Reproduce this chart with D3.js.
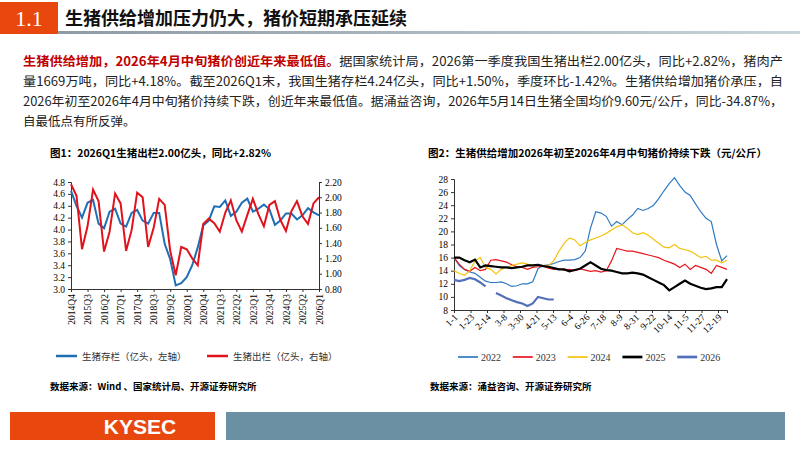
<!DOCTYPE html>
<html><head><meta charset="utf-8">
<script src="https://cdn.jsdelivr.net/npm/d3@7"></script>
<style>
body{margin:0;background:#fff}
text{font-family:"Liberation Serif","Noto Sans CJK SC",serif}
.cn{font-family:"Noto Sans CJK SC",sans-serif}
</style></head><body>
<script>
const width = 800
const height = 450

// chart 1 data
const quarters = ['2014Q4','2015Q1','2015Q2','2015Q3','2015Q4','2016Q1','2016Q2','2016Q3','2016Q4','2017Q1','2017Q2','2017Q3','2017Q4','2018Q1','2018Q2','2018Q3','2018Q4','2019Q1','2019Q2','2019Q3','2019Q4','2020Q1','2020Q2','2020Q3','2020Q4','2021Q1','2021Q2','2021Q3','2021Q4','2022Q1','2022Q2','2022Q3','2022Q4','2023Q1','2023Q2','2023Q3','2023Q4','2024Q1','2024Q2','2024Q3','2024Q4','2025Q1','2025Q2','2025Q3','2025Q4','2026Q1']
const inventory = [4.65,4.4,4.2,4.45,4.5,4.1,4.02,4.3,4.35,4.1,4.05,4.28,4.33,4.15,4.1,4.28,4.28,3.76,3.5,3.06,3.1,3.2,3.4,3.7,4.07,4.15,4.39,4.38,4.49,4.23,4.3,4.45,4.52,4.3,4.35,4.42,4.34,4.08,4.15,4.27,4.27,4.17,4.24,4.36,4.29,4.24]
const slaughter = [2.17,2.02,1.32,1.62,2.1,1.95,1.29,1.55,2.05,1.92,1.3,1.57,2.06,2.0,1.35,1.6,1.98,1.9,1.3,0.98,1.35,1.32,1.2,1.11,1.65,1.72,1.66,1.55,1.8,1.96,1.7,1.55,1.77,1.98,1.78,1.62,1.9,1.95,1.7,1.56,1.82,1.95,1.75,1.65,1.92,2.0]
const leftTicks = [3.0,3.2,3.4,3.6,3.8,4.0,4.2,4.4,4.6,4.8]
const rightTicks = [0.8,1.0,1.2,1.4,1.6,1.8,2.0,2.2]

// chart 2 data (weekly readings, day of year)
const days = d3.range(0, 365, 7)
const price2022 = [16,14.8,14.2,13.8,13.6,13.0,12.4,12.2,12.2,12.3,12.0,11.6,11.7,12.0,12.0,12.3,14.3,14.8,14.9,15.1,15.4,15.6,15.6,15.7,16.0,17.0,20.5,23.0,22.8,22.3,20.8,21.5,21.0,21.8,22.5,23.5,23.2,23.5,24.0,25.0,26.2,27.3,28.2,27.0,26.0,25.5,24.2,23.0,22.0,21.5,18.0,15.5,16.3]
const price2023 = [16,15,14.2,13.9,14.5,14.0,14.2,15.6,15.7,15.5,15.3,14.9,14.6,14.5,14.2,14.5,14.6,14.7,14.4,14.2,14.3,14.1,14.2,14.0,14.3,14.1,13.9,14.0,13.8,14.0,15.5,17.4,17.2,17.0,17.0,16.8,16.6,16.4,16.2,16.0,15.6,15.3,15.0,14.5,15.0,14.2,14.8,14.5,14.2,13.6,14.8,14.5,14.2]
const price2024 = [14,13.6,13.3,14.0,15.5,16.0,14.5,14.2,13.5,14.2,14.5,14.8,15.0,15.2,15.0,14.8,14.8,14.7,14.8,15.5,17.0,18.2,19.0,18.7,17.8,18.3,18.7,19.0,19.3,19.7,20.2,20.7,21.0,20.5,19.8,19.5,19.8,19.4,18.8,18.2,17.6,17.5,18.0,17.4,17.2,17.0,16.5,16.0,16.2,15.6,15.6,15.2,15.6]
const price2025 = [16,16.0,15.6,15.3,15.7,14.5,14.8,14.7,14.6,14.5,14.5,14.4,14.5,14.6,14.8,14.8,14.9,14.7,14.6,14.4,14.2,14.2,13.9,14.1,14.3,14.8,15.3,14.8,14.3,14.1,14.0,13.8,13.6,13.6,13.7,13.6,13.4,13.0,12.6,12.2,11.8,11.0,11.5,12.0,12.5,12.0,11.7,11.4,11.2,11.3,11.5,11.5,12.7]
const price2026 = [12.6,12.4,12.6,12.9,12.7,12.2,11.6,null,10.6,10.2,9.8,9.5,9.2,9.0,8.6,9.0,10.0,9.8,9.6,9.6]
const dayLabels = ['1-1','1-23','2-14','3-8','3-30','4-21','5-13','6-4','6-26','7-18','8-9','8-31','9-22','10-14','11-5','11-27','12-19']
const priceTicks = [8,10,12,14,16,18,20,22,24,26,28]

const svg = d3.select('body').append('svg').attr('width', width).attr('height', height)

// header
const hg = svg.append('defs').append('linearGradient').attr('id', 'hl')
hg.append('stop').attr('offset', '0').attr('stop-color', '#8a96a0')
hg.append('stop').attr('offset', '1').attr('stop-color', '#c9d3da')
svg.append('rect').attr('x', 0).attr('y', 31).attr('width', 800).attr('height', 3).attr('fill', 'url(#hl)')
svg.append('rect').attr('x', 0).attr('y', 2).attr('width', 58).attr('height', 32).attr('fill', '#e8470e')
svg.append('text').attr('x', 29).attr('y', 26).attr('text-anchor', 'middle').attr('fill', '#fff')
	.attr('font-size', 22).text('1.1')
svg.append('text').attr('class', 'cn').attr('x', 65).attr('y', 25).attr('font-size', 18).attr('font-weight', 'bold')
	.attr('fill', '#111').text('生猪供给增加压力仍大，猪价短期承压延续')

// paragraph
const para = [
	['生猪供给增加，2026年4月中旬猪价创近年来最低值。', '据国家统计局，2026第一季度我国生猪出栏2.00亿头，同比+2.82%，猪肉产'],
	['', '量1669万吨，同比+4.18%。截至2026Q1末，我国生猪存栏4.24亿头，同比+1.50%，季度环比-1.42%。生猪供给增加猪价承压，自'],
	['', '2026年初至2026年4月中旬猪价持续下跌，创近年来最低值。据涌益咨询，2026年5月14日生猪全国均价9.60元/公斤，同比-34.87%，'],
	['', '自最低点有所反弹。']
]
para.forEach((p, i) => {
	const t = svg.append('text').attr('class', 'cn').attr('x', 23).attr('y', 66 + i * 20).attr('font-size', 12.5).attr('fill', '#222')
	if (i < 3) t.attr('textLength', 760).attr('lengthAdjust', 'spacingAndGlyphs')
	if (p[0]) t.append('tspan').attr('fill', '#c00000').attr('font-weight', 'bold').text(p[0])
	t.append('tspan').text(p[1])
})

// chart 1
svg.append('text').attr('class', 'cn').attr('x', 50).attr('y', 157).attr('font-size', 10.5).attr('font-weight', 'bold')
	.text('图1：2026Q1生猪出栏2.00亿头，同比+2.82%')
const c1 = { l: 71, r: 319, t: 182, b: 289 }
const x1 = d3.scalePoint().domain(quarters).range([c1.l, c1.r])
const yL = d3.scaleLinear().domain([3.0, 4.8]).range([c1.b, c1.t])
const yR = d3.scaleLinear().domain([0.8, 2.2]).range([c1.b, c1.t])

svg.append('g').attr('transform', `translate(${c1.l},0)`)
	.call(d3.axisLeft(yL).tickValues(leftTicks).tickFormat(d3.format('.1f')).tickSize(3))
	.call(g => g.selectAll('text').attr('font-size', 9.5))
svg.append('g').attr('transform', `translate(${c1.r},0)`)
	.call(d3.axisRight(yR).tickValues(rightTicks).tickFormat(d3.format('.2f')).tickSize(3))
	.call(g => g.selectAll('text').attr('font-size', 9.5))
svg.append('g').attr('transform', `translate(0,${c1.b})`)
	.call(d3.axisBottom(x1).tickValues(quarters.filter((q, i) => i % 3 === 0)).tickSize(3))
	.call(g => g.selectAll('text').attr('font-size', 9.5)
		.attr('transform', 'rotate(-90)').attr('text-anchor', 'end').attr('x', -5).attr('y', 0).attr('dy', '0.35em'))
svg.selectAll('.domain, .tick line').attr('stroke', '#333')

svg.append('path').attr('fill', 'none').attr('stroke', '#1f6fb4').attr('stroke-width', 2)
	.attr('d', d3.line().x((d, i) => x1(quarters[i])).y(d => yL(d))(inventory))
svg.append('path').attr('fill', 'none').attr('stroke', '#e0121c').attr('stroke-width', 2)
	.attr('d', d3.line().x((d, i) => x1(quarters[i])).y(d => yR(d))(slaughter))

const leg1 = [['生猪存栏（亿头，左轴）', '#1f6fb4', 56], ['生猪出栏（亿头，右轴）', '#e0121c', 207]]
leg1.forEach(([name, c, x]) => {
	svg.append('line').attr('x1', x).attr('x2', x + 21).attr('y1', 356).attr('y2', 356).attr('stroke', c).attr('stroke-width', 2.5)
	svg.append('text').attr('class', 'cn').attr('x', x + 26).attr('y', 360).attr('font-size', 9.5).attr('fill', '#333').text(name)
})
svg.append('text').attr('class', 'cn').attr('x', 50).attr('y', 390).attr('font-size', 9.5).attr('font-weight', 'bold')
	.text('数据来源：Wind 、国家统计局、开源证券研究所')

// chart 2
svg.append('text').attr('class', 'cn').attr('x', 428).attr('y', 157).attr('font-size', 10.5).attr('font-weight', 'bold')
	.text('图2：生猪供给增加2026年初至2026年4月中旬猪价持续下跌（元/公斤）')
const c2 = { l: 454, r: 727, t: 179, b: 310 }
const x2 = d3.scaleLinear().domain([0, 364]).range([c2.l, c2.r])
const y2 = d3.scaleLinear().domain([8, 28]).range([c2.b, c2.t])

svg.append('g').attr('transform', `translate(${c2.l},0)`)
	.call(d3.axisLeft(y2).tickValues(priceTicks).tickSize(3))
	.call(g => g.selectAll('text').attr('font-size', 9.5))
svg.append('g').attr('transform', `translate(0,${c2.b})`)
	.call(d3.axisBottom(x2).tickValues(dayLabels.map((d, i) => i * 22)).tickFormat((d, i) => dayLabels[i]).tickSize(3))
	.call(g => g.selectAll('text').attr('font-size', 9.5)
		.attr('transform', 'rotate(-45)').attr('text-anchor', 'end').attr('x', -3).attr('y', 5).attr('dy', '0.35em'))
svg.selectAll('.domain, .tick line').attr('stroke', '#333')

const series = [
	['2022', price2022, '#2e7ac4', 1.2],
	['2023', price2023, '#e8141c', 1.2],
	['2024', price2024, '#f4c20d', 1.2],
	['2025', price2025, '#000', 2.2],
	['2026', price2026, '#5470b8', 2.2]
]
const line2 = d3.line().defined(d => d != null).x((d, i) => x2(days[i])).y(d => y2(d))
series.forEach(([name, vals, c, w]) => {
	svg.append('path').attr('fill', 'none').attr('stroke', c).attr('stroke-width', w).attr('d', line2(vals))
})
series.forEach(([name, vals, c, w], i) => {
	const x = 458 + i * 54.8
	svg.append('line').attr('x1', x).attr('x2', x + 20).attr('y1', 357).attr('y2', 357).attr('stroke', c).attr('stroke-width', w + 0.5)
	svg.append('text').attr('x', x + 23).attr('y', 361).attr('font-size', 10).attr('fill', '#333').text(name)
})
svg.append('text').attr('class', 'cn').attr('x', 430).attr('y', 390).attr('font-size', 9.5).attr('font-weight', 'bold')
	.text('数据来源：涌益咨询、开源证券研究所')

// footer
svg.append('rect').attr('x', 10).attr('y', 412).attr('width', 205).attr('height', 28).attr('fill', '#e8470e')
svg.append('text').attr('x', 140).attr('y', 434).attr('text-anchor', 'middle').attr('fill', '#fff')
	.style('font-family', '"Liberation Sans", Arial, sans-serif').attr('font-weight', 'bold').attr('font-size', 21).text('KYSEC')
svg.append('rect').attr('x', 226).attr('y', 412).attr('width', 559).attr('height', 28).attr('fill', '#6b8fa3')
</script>
</body></html>
